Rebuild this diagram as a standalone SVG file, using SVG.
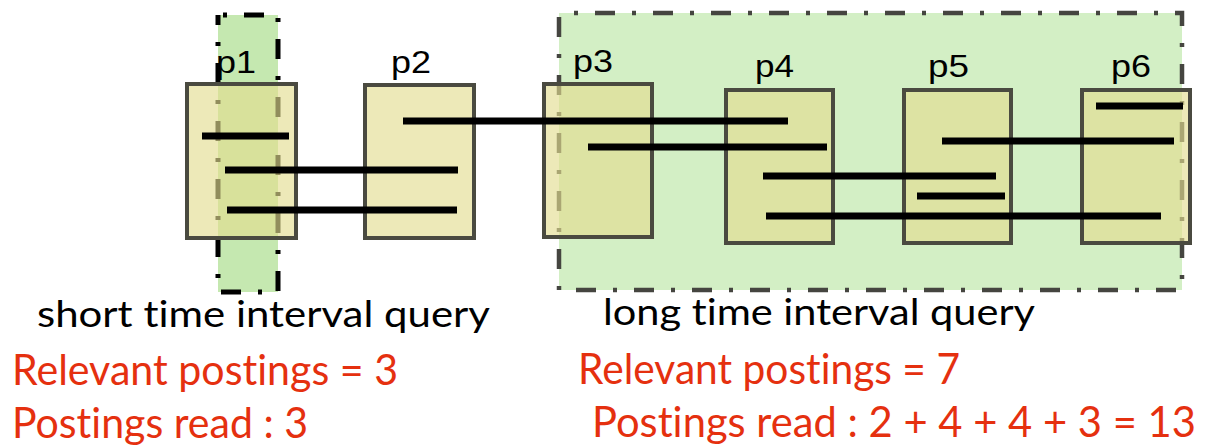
<svg xmlns="http://www.w3.org/2000/svg" width="1208" height="448" viewBox="0 0 1208 448">
  <style>
    .query-short { fill: #c5e8b0; stroke: #000000; stroke-width: 5; stroke-dasharray: 20 17 4 17; stroke-dashoffset: 32; }
    .query-long { fill: #d3efc5; stroke: #454540; stroke-width: 4.5; stroke-dasharray: 20 17 4 17; stroke-dashoffset: 22; }
    .page { fill: #e3dd90; fill-opacity: 0.64; stroke: #4a4a40; stroke-width: 4; }
    .posting { stroke: #000000; stroke-width: 7; fill: none; }
    .plabel { font-family: "Liberation Sans", Arial, sans-serif; font-size: 31px; fill: #000000; }
    .caption { font-family: Lato, "Open Sans", sans-serif; font-size: 37px; fill: #000000; font-variant-ligatures: none; font-feature-settings: "liga" 0; }
    .stat { font-family: Lato, "Open Sans", sans-serif; font-size: 43px; fill: #e5300f; font-variant-ligatures: none; font-feature-settings: "liga" 0; }
  </style>
  <rect width="1208" height="448" fill="#ffffff"/>

  <g id="short-query">
    <rect class="query-short" x="218" y="15" width="60" height="277"/>
  </g>
  <g id="long-query">
    <rect class="query-long" x="559" y="13" width="623" height="277"/>
  </g>

  <g id="p1">
    <rect class="page" x="187" y="84" width="109" height="154"/>
    <text class="plabel" x="216" y="73" textLength="40" lengthAdjust="spacingAndGlyphs">p1</text>
  </g>
  <g id="p2">
    <rect class="page" x="365" y="85" width="109" height="153"/>
    <text class="plabel" x="391" y="73" textLength="40" lengthAdjust="spacingAndGlyphs">p2</text>
  </g>
  <g id="p3">
    <rect class="page" x="544" y="84" width="108" height="153"/>
    <text class="plabel" x="573" y="72" textLength="40" lengthAdjust="spacingAndGlyphs">p3</text>
  </g>
  <g id="p4">
    <rect class="page" x="726" y="90" width="107" height="153"/>
    <text class="plabel" x="755" y="77" textLength="39" lengthAdjust="spacingAndGlyphs">p4</text>
  </g>
  <g id="p5">
    <rect class="page" x="904" y="90" width="107" height="153"/>
    <text class="plabel" x="928" y="77" textLength="41" lengthAdjust="spacingAndGlyphs">p5</text>
  </g>
  <g id="p6">
    <rect class="page" x="1082" y="90" width="108" height="153"/>
    <text class="plabel" x="1111" y="77" textLength="40" lengthAdjust="spacingAndGlyphs">p6</text>
  </g>

  <g id="postings">
    <line class="posting" x1="202" y1="136" x2="289" y2="136"/>
    <line class="posting" x1="225" y1="170" x2="458" y2="170"/>
    <line class="posting" x1="227" y1="210" x2="457" y2="210"/>
    <line class="posting" x1="403" y1="121" x2="788" y2="121"/>
    <line class="posting" x1="588" y1="147" x2="827" y2="147"/>
    <line class="posting" x1="763" y1="176" x2="996" y2="176"/>
    <line class="posting" x1="766" y1="216" x2="1161" y2="216"/>
    <line class="posting" x1="917" y1="196" x2="1005" y2="196"/>
    <line class="posting" x1="942" y1="141" x2="1174" y2="141"/>
    <line class="posting" x1="1096" y1="106" x2="1183" y2="106"/>
  </g>

  <g id="captions">
    <text class="caption" x="37" y="327" textLength="453" lengthAdjust="spacingAndGlyphs">short time interval query</text>
    <text class="caption" x="603" y="325" textLength="432" lengthAdjust="spacingAndGlyphs">long time interval query</text>
  </g>
  <g id="stats">
    <text class="stat" x="12" y="385" textLength="386" lengthAdjust="spacingAndGlyphs">Relevant postings = 3</text>
    <text class="stat" x="12" y="438" textLength="296" lengthAdjust="spacingAndGlyphs">Postings read : 3</text>
    <text class="stat" x="578" y="384" textLength="382" lengthAdjust="spacingAndGlyphs">Relevant postings = 7</text>
    <text class="stat" x="1196" y="437" font-size="42" text-anchor="end" textLength="604" lengthAdjust="spacingAndGlyphs">Postings read : 2 + 4 + 4 + 3 = 13</text>
  </g>
</svg>
